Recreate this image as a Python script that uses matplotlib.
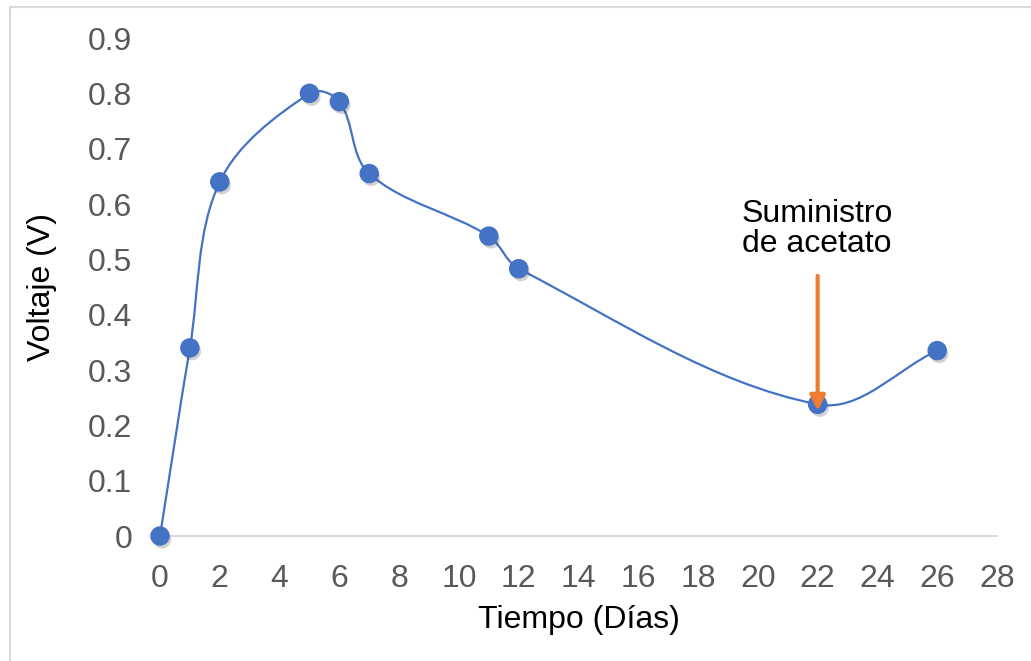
import matplotlib
matplotlib.use("Agg")
import matplotlib.pyplot as plt
import matplotlib.patheffects as pe
from matplotlib.path import Path
from matplotlib.patches import PathPatch, Rectangle
import numpy as np

plt.rcParams['font.family'] = ['Liberation Sans', 'DejaVu Sans']

# voltage of the cell over time
dias = [0, 1, 2, 5, 6, 7, 11, 12, 22, 26]
voltaje = [0.0, 0.34, 0.64, 0.80, 0.785, 0.655, 0.542, 0.483, 0.238, 0.335]

x_ticks = list(range(0, 29, 2))
y_ticks = [0, 0.1, 0.2, 0.3, 0.4, 0.5, 0.6, 0.7, 0.8, 0.9]
y_ticklabels = ['0', '0.1', '0.2', '0.3', '0.4', '0.5', '0.6', '0.7', '0.8', '0.9']

nota = 'Suministro\nde acetato'
nota_x = 22
nota_y = 0.555
flecha_desde = 0.47
flecha_hasta = 0.226

azul = '#4472C4'
naranja = '#ED7D31'
gris = '#595959'
fs = 23


def smooth_path(xs, ys, sx, sy):
    # bezier segments: tangent from neighbours, length from the segment itself
    # (done in screen-like units so both axes weigh the same)
    pts = np.column_stack([np.asarray(xs) * sx, np.asarray(ys) * sy]).astype(float)
    n = len(pts)
    tang = np.zeros_like(pts)
    for i in range(n):
        a = pts[max(i - 1, 0)]
        b = pts[min(i + 1, n - 1)]
        d = b - a
        tang[i] = d / np.hypot(*d)
    verts = [tuple(pts[0])]
    codes = [Path.MOVETO]
    for i in range(n - 1):
        L = np.hypot(*(pts[i + 1] - pts[i]))
        c1 = pts[i] + tang[i] * L / 3
        c2 = pts[i + 1] - tang[i + 1] * L / 3
        verts += [tuple(c1), tuple(c2), tuple(pts[i + 1])]
        codes += [Path.CURVE4] * 3
    verts = np.array(verts) / [sx, sy]
    return Path(verts, codes)


fig = plt.figure(figsize=(10.31, 6.61), dpi=100)
ax = fig.add_axes([160 / 1031, 1 - 536 / 661, 837 / 1031, 498 / 661])

ax.add_patch(PathPatch(smooth_path(dias, voltaje, 837 / 28, 498 / 0.9),
                       fill=False, edgecolor=azul, lw=1.6, zorder=3))
ax.scatter(dias, voltaje, s=170, color=azul, zorder=4, clip_on=False,
           path_effects=[pe.SimplePatchShadow(offset=(1.5, -2.5), alpha=0.22,
                                              shadow_rgbFace='#303030'),
                         pe.Normal()])

ax.set_xlim(0, 28)
ax.set_ylim(0, 0.9)
ax.set_xticks(x_ticks)
ax.set_yticks(y_ticks)
ax.set_yticklabels(y_ticklabels)
ax.tick_params(length=0, labelsize=fs, labelcolor=gris)
ax.tick_params(axis='x', pad=20)
ax.tick_params(axis='y', pad=20)

for s in ['top', 'right', 'left']:
    ax.spines[s].set_visible(False)
ax.spines['bottom'].set_color('#d9d9d9')
ax.spines['bottom'].set_linewidth(1.5)
ax.spines['bottom'].set_zorder(1)

ax.set_xlabel('Tiempo (Días)', fontsize=fs, color='black', labelpad=8)
ax.set_ylabel('Voltaje (V)', fontsize=fs, color='black', labelpad=22)

ax.text(nota_x, nota_y, nota, fontsize=fs, ha='center', va='center',
        multialignment='left', linespacing=1.0)
ax.annotate('', xy=(nota_x, flecha_hasta), xytext=(nota_x, flecha_desde),
            arrowprops=dict(arrowstyle='-|>,head_length=0.9,head_width=0.45',
                            color=naranja, lw=3, shrinkA=0, shrinkB=0),
            zorder=5)

# light frame around the chart area
fig.patches.append(Rectangle((9.5 / 1031, -0.05), 1.2, 1.05 - 6.5 / 661,
                             transform=fig.transFigure, fill=False,
                             edgecolor='#d9d9d9', lw=1.5))

fig.savefig('out.png', dpi=100)
